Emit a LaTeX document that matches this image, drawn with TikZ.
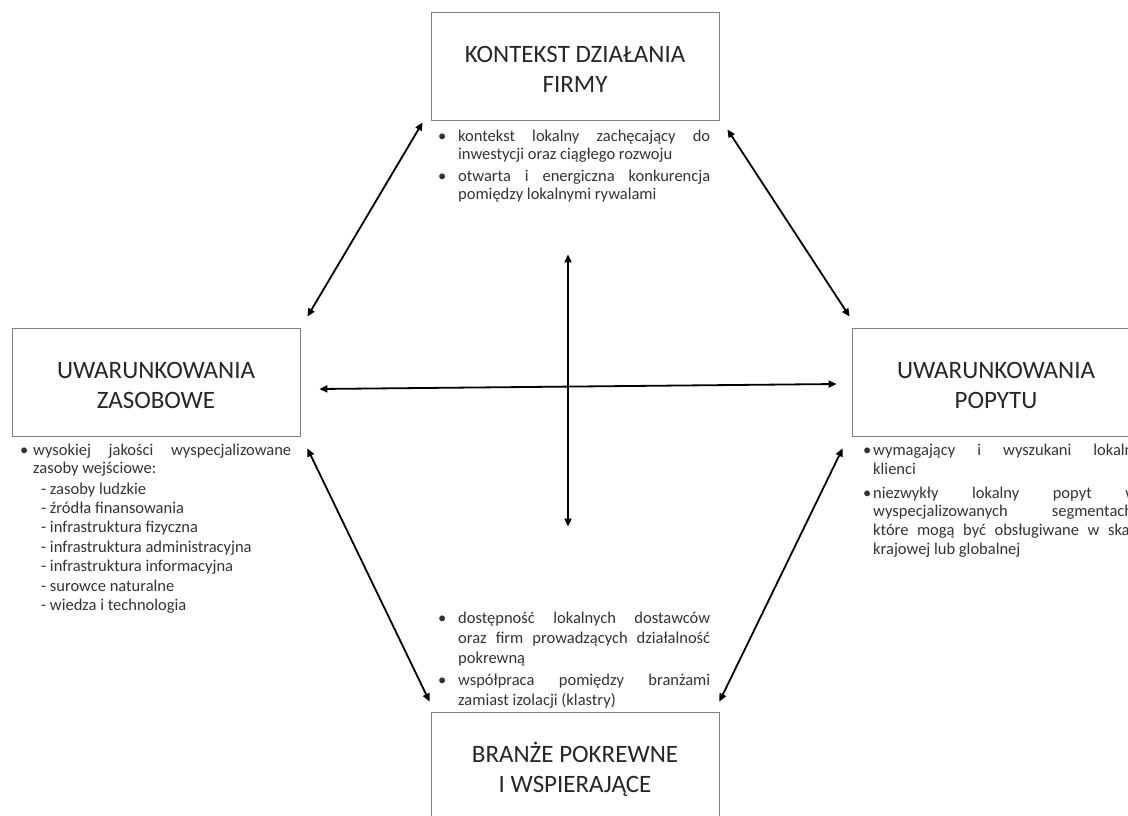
\documentclass[tikz,border=0pt]{standalone}
\usepackage{fontspec}
\setmainfont{Carlito}
\usetikzlibrary{arrows.meta,calc}
\newcommand\bitem[2]{\hangindent=#1\relax\hangafter=1\relax\noindent\strut\makebox[#1][l]{\textbullet}\ignorespaces #2\par}
\newcommand\txtsetup[1]{\tolerance=10000\relax\hyphenpenalty=10000\relax\parskip=#1\relax}
\newcommand\mysubline[1]{\noindent\hspace*{21pt}- #1\par}
\begin{document}
\begin{tikzpicture}[x=1pt,y=-1pt,
  box/.style={draw=black!50, line width=0.8pt, minimum width=288pt, minimum height=108pt, inner sep=0pt},
  title/.style={inner sep=0pt, align=center, text=black!85, font=\fontsize{25}{30}\selectfont},
  txt/.style={anchor=north west, inner sep=0pt, align=justify, text=black!80, font=\fontsize{16.5}{18}\selectfont},
  arr/.style={line width=1.8pt, {Triangle[length=8pt,width=7pt]}-{Triangle[length=8pt,width=7pt]}}]
\useasboundingbox (0,0) rectangle (1128,816);
\clip (0,0) rectangle (1128,816);
\node[box] (top) at (575,66) {};
\node[box] (left) at (156,382) {};
\node[box] (right) at (996,382) {};
\node[box] (bot) at (575,766) {};
\node[title] (topt) at ($(top.center)+(0,3.8)$) {KONTEKST DZIAŁANIA\\FIRMY};
\node[title] (leftt) at ($(left.center)+(0,3.2)$) {UWARUNKOWANIA\\ZASOBOWE};
\node[title] (rightt) at ($(right.center)+(0,3.2)$) {UWARUNKOWANIA\\POPYTU};
\node[title] (bott) at ($(bot.center)+(0,3.2)$) {BRANŻE POKREWNE\\I WSPIERAJĄCE};
% text blocks
\node[txt, text width=272pt] (ttop) at (438,129) {\txtsetup{4pt}%
\bitem{20pt}{kontekst lokalny zachęcający do\linebreak inwestycji oraz ciągłego rozwoju}
\bitem{20pt}{otwarta i energiczna konkurencja\linebreak pomiędzy lokalnymi rywalami}};
\node[txt, text width=271pt] (tleft) at (20,443) {\txtsetup{0pt}%
\bitem{13pt}{wysokiej jakości wyspecjalizowane\linebreak zasoby wejściowe:}
\baselineskip=19.4pt\vspace{0.8pt}%
\mysubline{zasoby ludzkie}
\mysubline{źródła finansowania}
\mysubline{infrastruktura fizyczna}
\mysubline{infrastruktura administracyjna}
\mysubline{infrastruktura informacyjna}
\mysubline{surowce naturalne}
\mysubline{wiedza i technologia}};
\node[txt, text width=274pt, font=\fontsize{16.5}{18.7}\selectfont] (tright) at (863,442.4) {\txtsetup{5pt}%
\bitem{10pt}{wymagający i wyszukani lokalni\linebreak klienci}
\bitem{10pt}{niezwykły lokalny popyt w\linebreak wyspecjalizowanych segmentach,\linebreak które mogą być obsługiwane w skali\linebreak krajowej lub globalnej}};
\node[txt, text width=272pt, font=\fontsize{16.5}{19.8}\selectfont] (tbot) at (438,609.5) {\txtsetup{3pt}%
\bitem{20pt}{dostępność lokalnych dostawców\linebreak oraz firm prowadzących działalność\linebreak pokrewną}
\bitem{20pt}{współpraca pomiędzy branżami\linebreak zamiast izolacji (klastry)}};
% arrows
\draw[arr] ($(top.south west)+(-8,2)$) -- ($(left.north east)+(7,-11)$);
\draw[arr] ($(top.south east)+(8,9)$) -- ($(right.north west)+(-2,-11)$);
\draw[arr] ($(left.south east)+(7,12)$) -- ($(bot.north west)+(-1,-10)$);
\draw[arr] ($(right.south west)+(-9,12)$) -- ($(bot.north east)+(0,-10)$);
\draw[arr] ($(left.east)+(19,7)$) -- ($(right.west)+(-15,2)$);
\draw[arr] ($(top.south)+(-7,134)$) -- ($(bot.north)+(-7,-185)$);
\end{tikzpicture}
\end{document}
